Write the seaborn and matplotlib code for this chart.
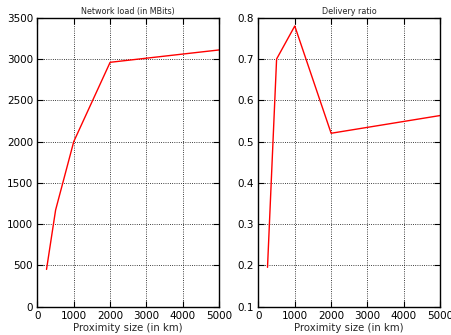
import matplotlib
matplotlib.use("Agg")
import matplotlib.pyplot as plt
import seaborn as sns
import pandas as pd

proximity = [250, 500, 1000, 2000, 5000]
network_load = [450, 1170, 2000, 2960, 3110]
delivery_ratio = [0.195, 0.70, 0.78, 0.52, 0.563]

sns.set_style("white")
plt.rcParams['font.family'] = ['DejaVu Sans']
plt.rcParams.update({
    'xtick.direction': 'in', 'ytick.direction': 'in',
    'xtick.top': True, 'ytick.right': True,
    'xtick.bottom': True, 'ytick.left': True,
    'xtick.major.size': 4, 'ytick.major.size': 4,
    'axes.edgecolor': 'black', 'axes.linewidth': 1.0,
})

df = pd.DataFrame({'x': proximity, 'load': network_load, 'ratio': delivery_ratio})

fig = plt.figure(figsize=(4.51, 3.35), dpi=100)
ax1 = fig.add_axes([0.083, 0.085, 0.403, 0.862])
ax2 = fig.add_axes([0.573, 0.085, 0.403, 0.862])

sns.lineplot(data=df, x='x', y='load', ax=ax1, color='red', lw=1)
sns.lineplot(data=df, x='x', y='ratio', ax=ax2, color='red', lw=1)

ax1.set_xlim(0, 5000); ax1.set_ylim(0, 3500)
ax2.set_xlim(0, 5000); ax2.set_ylim(0.1, 0.8)
ax1.set_xticks([0, 1000, 2000, 3000, 4000, 5000])
ax2.set_xticks([0, 1000, 2000, 3000, 4000, 5000])
ax1.set_yticks(range(0, 3501, 500))
ax2.set_yticks([0.1, 0.2, 0.3, 0.4, 0.5, 0.6, 0.7, 0.8])

for ax, title in [(ax1, 'Network load (in MBits)'), (ax2, 'Delivery ratio')]:
    ax.set_title(title, fontsize=5.8, pad=3)
    ax.set_xlabel('Proximity size (in km)', fontsize=7.3, labelpad=2)
    ax.set_ylabel('')
    ax.tick_params(labelsize=7.5, colors='black', pad=3, width=0.8)
    ax.grid(True, color='black', linestyle=':', linewidth=0.6)
    for s in ax.spines.values():
        s.set_visible(True); s.set_color('black')

fig.savefig('out.png', dpi=100)
